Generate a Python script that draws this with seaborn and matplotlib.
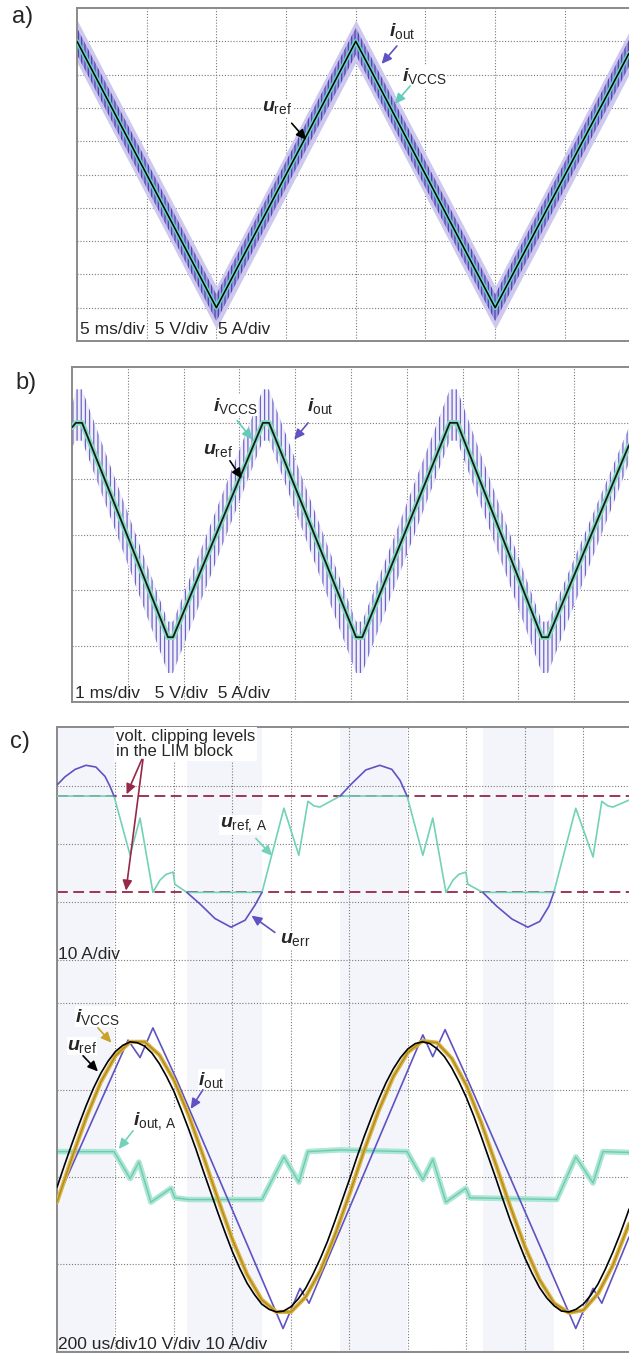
import matplotlib
matplotlib.use("Agg")
import matplotlib.pyplot as plt
import seaborn as sns
import numpy as np

# ---------------- a) 5 ms/div, 5 V/div ----------------
t_a = [0.0, 10.0, 20.0, 30.0, 39.6]            # ms
uref_a = [20.0, -20.0, 20.0, -20.0, 18.2]      # V
iout_a_hi = [23.2, -16.8, 23.2, -16.8, 21.4]   # outer ripple envelope
iout_a_lo = [16.8, -23.2, 16.8, -23.2, 15.0]
iout_a_core_hi = [22.0, -18.0, 22.0, -18.0, 20.2]
iout_a_core_lo = [18.0, -22.0, 18.0, -22.0, 16.2]

# ---------------- b) 1 ms/div, 5 V/div ----------------
t_b = [0.0, 0.07, 0.18, 1.72, 1.81, 3.42, 3.53, 5.09, 5.20, 6.77, 6.90, 8.42, 8.53, 9.98]
uref_b = [9.6, 10.0, 10.0, -9.2, -9.2, 10.0, 10.0, -9.2, -9.2, 10.0, 10.0, -9.2, -9.2, 8.0]
iout_b_hi = [11.4, 13.0, 13.0, -7.8, -7.8, 13.0, 13.0, -7.8, -7.8, 13.0, 13.0, -7.8, -7.8, 9.6]
iout_b_lo = [7.8, 8.4, 8.4, -12.4, -12.4, 8.4, 8.4, -12.4, -12.4, 8.4, 8.4, -12.4, -12.4, 6.4]

# ---------------- c) 200 us/div ----------------
clip_level = 8.3                                   # A (LIM block)
clip_spans = [(0, 195), (444, 701), (968, 1197), (1456, 1699)]  # us

t_refA = [0, 195, 250, 284, 328, 352, 373, 397, 403, 444, 701, 776, 827, 858, 879, 899, 968,
          1197, 1251, 1285, 1330, 1354, 1374, 1398, 1405, 1456, 1699, 1774, 1833, 1863, 1884, 1901, 1956]
u_refA = [8.3, 8.3, -1.9, 4.5, -8.3, -6.2, -5.2, -4.8, -6.9, -8.3, -8.3, 6.2, -1.9, 7.4, 6.6, 6.4, 8.3,
          8.3, -1.9, 4.5, -8.3, -6.2, -5.2, -4.8, -6.9, -8.3, -8.3, 6.2, -2.2, 7.4, 6.6, 6.4, 7.6]

# u_err, visible parts outside the clipping band
t_err_1 = [0, 27, 62, 99, 133, 164, 181, 195]
u_err_1 = [10.2, 11.6, 12.9, 13.6, 13.3, 11.7, 10.0, 8.3]
t_err_2 = [444, 489, 540, 595, 643, 677, 701]
u_err_2 = [-8.3, -10.3, -12.8, -14.3, -13.1, -10.5, -8.3]
t_err_3 = [968, 1009, 1056, 1104, 1145, 1173, 1197]
u_err_3 = [8.3, 10.5, 12.8, 13.6, 12.9, 11.0, 8.3]
t_err_4 = [1456, 1504, 1556, 1610, 1651, 1682, 1699]
u_err_4 = [-8.3, -10.7, -12.9, -14.3, -13.3, -10.7, -8.3]

t_ref = [0, 25, 50, 75, 100, 125, 150, 175, 200, 225, 250, 275, 300, 325, 350, 375, 400, 425, 450, 475,
         500, 525, 550, 575, 600, 625, 650, 675, 700, 725, 750, 775, 800, 825, 850, 875, 900, 925, 950, 975,
         1000, 1025, 1050, 1075, 1100, 1125, 1150, 1175, 1200, 1225, 1250, 1275, 1300, 1325, 1350, 1375,
         1400, 1425, 1450, 1475, 1500, 1525, 1550, 1575, 1600, 1625, 1650, 1675, 1700, 1725, 1750, 1775,
         1800, 1825, 1850, 1875, 1900, 1925, 1950, 1956]
u_ref = [-1.2, 1.3, 3.7, 6.0, 8.2, 10.2, 11.9, 13.3, 14.4, 15.1, 15.5, 15.4, 15.0, 14.2, 13.0, 11.5, 9.8, 7.7,
         5.5, 3.2, 0.7, -1.7, -4.1, -6.4, -8.6, -10.5, -12.2, -13.5, -14.6, -15.2, -15.5, -15.4, -14.9, -14.0,
         -12.8, -11.2, -9.4, -7.4, -5.1, -2.7, -0.3, 2.2, 4.6, 6.8, 8.9, 10.8, 12.4, 13.7, 14.7, 15.3, 15.5,
         15.3, 14.7, 13.8, 12.5, 10.9, 9.1, 7.0, 4.7, 2.3, -0.1, -2.6, -5.0, -7.2, -9.3, -11.1, -12.7, -13.9,
         -14.8, -15.4, -15.5, -15.2, -14.6, -13.6, -12.3, -10.6, -8.7, -6.6, -4.3, -3.7]

t_vccs = [0, 50, 100, 150, 200, 250, 300, 350, 400, 450, 500, 550, 600, 650, 700, 750, 800, 850, 900, 950,
          1000, 1050, 1100, 1150, 1200, 1250, 1300, 1350, 1400, 1450, 1500, 1550, 1600, 1650, 1700, 1750,
          1800, 1850, 1900, 1956]
i_vccs = [-2.9, 2.1, 6.8, 10.9, 13.9, 15.5, 15.5, 14.0, 11.1, 7.1, 2.4, -2.5, -7.2, -11.2, -14.1, -15.5,
          -15.5, -13.8, -10.8, -6.7, -2.0, 3.0, 7.6, 11.5, 14.3, 15.6, 15.4, 13.6, 10.5, 6.3, 1.5, -3.4,
          -8.0, -11.8, -14.5, -15.6, -15.3, -13.4, -10.2, -5.4]

t_out = [0, 243, 284, 328, 410, 773, 831, 862, 1251, 1285, 1327, 1405, 1774, 1833, 1863, 1956]
i_out = [-2.6, 15.7, 13.7, 17.1, 11.1, -17.4, -12.8, -14.5, 16.3, 13.8, 16.9, 11.1, -17.4, -12.8, -14.5, -6.9]

t_outA = [0, 195, 250, 280, 321, 390, 403, 450, 701, 776, 827, 858, 968, 1197, 1251, 1285, 1330, 1398,
          1412, 1709, 1774, 1833, 1867, 1956]
i_outA = [2.9, 2.9, -0.2, 1.7, -2.9, -1.3, -2.4, -2.6, -2.6, 2.3, -0.6, 2.9, 3.1, 2.9, -0.3, 2.0, -2.9,
          -1.3, -2.4, -2.6, 2.3, -0.7, 2.9, 2.8]

# ---------------- style ----------------
sns.set_style("white")
plt.rcParams["font.family"] = ["Liberation Sans", "DejaVu Sans"]
plt.rcParams["mathtext.fontset"] = "custom"
plt.rcParams["mathtext.rm"] = "Liberation Sans"
plt.rcParams["mathtext.it"] = "Liberation Sans:italic:bold"
plt.rcParams["mathtext.bf"] = "Liberation Sans:bold"
plt.rcParams["hatch.linewidth"] = 0.9

PURPLE = "#5f52c2"
TURQ = "#72d2b8"
GOLD = "#c9a227"
CLIPRED = "#962848"
W, H = 629, 1353

fig = plt.figure(figsize=(W / 100, H / 100), dpi=100)


def box(l, t, r, b):
    return [l / W, 1 - b / H, (r - l) / W, (b - t) / H]


def scope(ax, xlim, ylim, xt, yt, spines=("left", "top", "bottom")):
    ax.set_xlim(xlim)
    ax.set_ylim(ylim)
    ax.set_xticks(xt)
    ax.set_yticks(yt)
    ax.set_axisbelow(True)
    ax.grid(True, color="#7a7a7a", ls=(0, (1, 1.6)), lw=0.8)
    ax.tick_params(length=0, labelbottom=False, labelleft=False)
    for name, sp in ax.spines.items():
        sp.set_visible(name in spines)
        sp.set_color("#8a8a8a")
        sp.set_linewidth(1.4)


def label(ax, x, y, s, size=14):
    ax.text(x, y, s, fontsize=size, ha="left", va="baseline", zorder=6,
            bbox=dict(fc="white", ec="none", pad=0.3))


def arrow(ax, tail, head, color):
    ax.annotate("", xy=head, xytext=tail, zorder=7,
                arrowprops=dict(arrowstyle="-|>,head_length=0.6,head_width=0.28",
                                color=color, lw=1.2, shrinkA=0, shrinkB=0))


def line(ax, x, y, color, lw, z=3, alpha=1.0):
    sns.lineplot(x=x, y=y, ax=ax, color=color, lw=lw, estimator=None, sort=False,
                 legend=False, zorder=z, alpha=alpha)


# ---------------- panel a ----------------
ax_a = fig.add_axes(box(77, 8, 629, 341))
scope(ax_a, (0, 39.6), (-25, 25), np.arange(5, 39, 5), np.arange(-20, 21, 5))
ax_a.fill_between(t_a, iout_a_lo, iout_a_hi, color="#cdc9ee", lw=0, zorder=2)
ax_a.fill_between(t_a, iout_a_core_lo, iout_a_core_hi, facecolor="#a29ade", edgecolor="#4f44b0",
                  hatch="|||||", lw=0, zorder=2.5)
line(ax_a, t_a, uref_a, "#62d6c4", 3.2, z=3)
line(ax_a, t_a, uref_a, "black", 1.1, z=4)
ax_a.text(0.25, -23.9, "5 ms/div  5 V/div  5 A/div", fontsize=12.5, va="baseline", zorder=6)
label(ax_a, 13.3, 9.5, r"$u_{\mathrm{ref}}$")
arrow(ax_a, (15.4, 7.7), (16.45, 5.2), "black")
label(ax_a, 22.4, 20.8, r"$i_{\mathrm{out}}$")
arrow(ax_a, (22.95, 19.3), (21.85, 16.6), PURPLE)
label(ax_a, 23.3, 14.0, r"$i_{\mathrm{VCCS}}$")
arrow(ax_a, (23.9, 13.3), (22.8, 10.6), "#62ccbc")

# ---------------- panel b ----------------
ax_b = fig.add_axes(box(72, 367, 629, 702))
scope(ax_b, (0, 9.98), (-15, 15), np.arange(1, 10, 1), np.arange(-10, 11, 5))
ax_b.fill_between(t_b, iout_b_lo, iout_b_hi, facecolor="#efeefa", edgecolor="#6d64c8",
                  hatch="||||", lw=0, zorder=2)
line(ax_b, t_b, uref_b, "#86dcc3", 4.0, z=3)
line(ax_b, t_b, uref_b, "#1a1a1a", 1.3, z=4)
ax_b.text(0.05, -14.6, "1 ms/div   5 V/div  5 A/div", fontsize=12.5, va="baseline", zorder=6)
label(ax_b, 2.53, 11.1, r"$i_{\mathrm{VCCS}}$")
arrow(ax_b, (2.96, 10.2), (3.23, 8.5), "#62ccbc")
label(ax_b, 2.35, 7.2, r"$u_{\mathrm{ref}}$")
arrow(ax_b, (2.83, 6.6), (3.04, 5.0), "black")
label(ax_b, 4.21, 11.1, r"$i_{\mathrm{out}}$")
arrow(ax_b, (4.23, 10.0), (3.98, 8.5), PURPLE)

# ---------------- panel c, upper trace ----------------
ax_c1 = fig.add_axes(box(57, 727, 629, 980))
scope(ax_c1, (0, 1956), (-23.4, 20.2), np.arange(200, 1956, 200), [-20, -10, 0, 10],
      spines=("left", "top"))
ax_c2 = fig.add_axes(box(57, 980, 629, 1352))
scope(ax_c2, (0, 1956), (-20.1, 22.6), np.arange(200, 1956, 200), [-20, -10, 0, 10, 20],
      spines=("left", "bottom"))
for ax in (ax_c1, ax_c2):
    for a0, a1 in clip_spans:
        ax.axvspan(a0, a1, color="#f3f5fb", lw=0, zorder=0.2)

for lev in (clip_level, -clip_level):
    ax_c1.axhline(lev, color=CLIPRED, ls=(0, (6, 3)), lw=1.3, zorder=2)
line(ax_c1, t_refA, u_refA, TURQ, 1.2, z=4)
for tt, uu in ((t_err_1, u_err_1), (t_err_2, u_err_2), (t_err_3, u_err_3), (t_err_4, u_err_4)):
    line(ax_c1, tt, uu, PURPLE, 1.2, z=4)

ax_c1.text(202, 19.9, "volt. clipping levels\nin the LIM block", fontsize=12, va="top",
           linespacing=1.05, zorder=6, bbox=dict(fc="white", ec="none", pad=1.5))
arrow(ax_c1, (290, 14.6), (238, 8.6), CLIPRED)
arrow(ax_c1, (294, 14.6), (236, -8.0), CLIPRED)
label(ax_c1, 557, 2.9, r"$u_{\mathrm{ref,\,A}}$")
arrow(ax_c1, (680, 1.0), (736, -2.0), TURQ)
label(ax_c1, 761, -17.1, r"$u_{\mathrm{err}}$")
arrow(ax_c1, (745, -15.2), (665, -12.3), PURPLE)
ax_c1.text(3, -19.8, "10 A/div", fontsize=12.5, va="baseline", zorder=6)

# ---------------- panel c, lower trace ----------------
line(ax_c2, t_outA, i_outA, "#ace6d4", 4.0, z=2)
line(ax_c2, t_outA, i_outA, "#6fcbb0", 1.0, z=2.1)
line(ax_c2, t_out, i_out, PURPLE, 1.2, z=3)
line(ax_c2, t_vccs, i_vccs, "#d9b446", 3.0, z=3.5)
line(ax_c2, t_vccs, i_vccs, "#b48c18", 1.0, z=3.6)
line(ax_c2, t_ref, u_ref, "black", 1.2, z=4)

label(ax_c2, 62, 17.8, r"$i_{\mathrm{VCCS}}$")
arrow(ax_c2, (140, 17.1), (186, 15.4), GOLD)
label(ax_c2, 34, 14.6, r"$u_{\mathrm{ref}}$")
arrow(ax_c2, (89, 13.9), (140, 12.1), "black")
label(ax_c2, 482, 10.6, r"$i_{\mathrm{out}}$")
arrow(ax_c2, (499, 10.0), (457, 7.8), PURPLE)
label(ax_c2, 260, 6.0, r"$i_{\mathrm{out,\,A}}$")
arrow(ax_c2, (260, 5.3), (211, 3.2), TURQ)
ax_c2.text(3, -19.7, "200 us/div10 V/div 10 A/div", fontsize=12.5, va="baseline", zorder=6)

# panel letters
fig.text(12 / W, 1 - 17 / H, "a)", fontsize=17, va="center")
fig.text(15 / W, 1 - 383 / H, "b)", fontsize=17, va="center")
fig.text(10 / W, 1 - 742 / H, "c)", fontsize=17, va="center")

fig.savefig("out.png", dpi=100)
